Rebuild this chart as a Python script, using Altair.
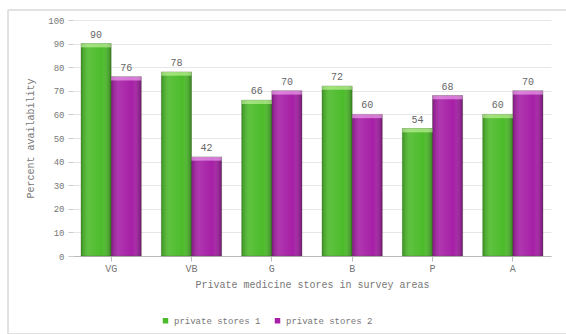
import altair as alt
import pandas as pd

# Survey areas and availability (%) for the two store groups
areas = ["VG", "VB", "G", "B", "P", "A"]
stores_1 = [90, 78, 66, 72, 54, 60]
stores_2 = [76, 42, 70, 60, 68, 70]
series_names = ["private stores 1", "private stores 2"]
y_ticks = [0, 10, 20, 30, 40, 50, 60, 70, 80, 90, 100]

rows = []
for i, a in enumerate(areas):
    rows.append({"area": a, "series": series_names[0], "value": stores_1[i]})
    rows.append({"area": a, "series": series_names[1], "value": stores_2[i]})
df = pd.DataFrame(rows)

FONT = "Liberation Mono"
GRAY = "#777777"

x_enc = alt.X("area:N", sort=areas, title="Private medicine stores in survey areas",
              scale=alt.Scale(paddingInner=0.25, paddingOuter=0.1),
              axis=alt.Axis(labelAngle=0, labelFont=FONT, labelFontSize=10, labelColor=GRAY,
                            titleFont=FONT, titleFontSize=10, titleColor=GRAY, titleFontWeight="normal",
                            domainColor="#bbbbbb", tickColor="#bbbbbb", labelPadding=2, titlePadding=6))
y_enc = alt.Y("value:Q", title="Percent availability",
              scale=alt.Scale(domain=[0, 100]),
              axis=alt.Axis(values=y_ticks, labelOverlap=False, labelFont=FONT, labelFontSize=9,
                            labelColor=GRAY, titleFont=FONT, titleFontSize=10, titleColor=GRAY,
                            titleFontWeight="normal", gridColor="#e6e6e6", domain=False,
                            tickColor="#cccccc", tickSize=5, labelPadding=4, titlePadding=12))
color_enc = alt.Color("series:N", sort=series_names,
                      scale=alt.Scale(domain=series_names, range=["#4cbb2a", "#a61fa6"]),
                      legend=alt.Legend(orient="none", legendX=88, legendY=296, direction="horizontal",
                                        title=None, symbolType="square", symbolSize=30,
                                        labelFont=FONT, labelFontSize=9, labelColor=GRAY,
                                        columnPadding=12, symbolStrokeWidth=0))
offset = alt.XOffset("series:N", sort=series_names)

bars = alt.Chart(df).mark_bar(stroke="#2f4f1a", strokeOpacity=0.3, strokeWidth=1).encode(
    x=x_enc, y=y_enc, color=color_enc, xOffset=offset
)

# cylindrical shading across each bar
shade = alt.Chart(df).mark_bar(
    fill=alt.Gradient(
        gradient="linear", x1=0, x2=1, y1=0, y2=0,
        stops=[
            alt.GradientStop(color="rgba(0,0,0,0.22)", offset=0),
            alt.GradientStop(color="rgba(255,255,255,0.10)", offset=0.25),
            alt.GradientStop(color="rgba(255,255,255,0.0)", offset=0.7),
            alt.GradientStop(color="rgba(0,0,0,0.30)", offset=1),
        ],
    )
).encode(x=x_enc, y=y_enc, xOffset=offset)

# light cap on top of each bar
caps_df = df.assign(cap_bottom=df["value"] - 1.6)
caps = alt.Chart(caps_df).mark_bar(opacity=0.55).encode(
    x=x_enc, y=y_enc, y2="cap_bottom:Q", xOffset=offset,
    color=alt.Color("series:N", sort=series_names, legend=None,
                    scale=alt.Scale(domain=series_names, range=["#d8ffb0", "#ffc0ff"])),
)

labels = alt.Chart(df).mark_text(dy=-9, font=FONT, fontSize=10, color="#666666").encode(
    x=x_enc, y=y_enc, xOffset=offset, text="value:Q"
)

frame = alt.Chart(df).mark_rect(fill=None, stroke="#e2e2e2", strokeWidth=1).encode(
    x=alt.value(-65), x2=alt.value(550), y=alt.value(-10), y2=alt.value(314)
)

chart = alt.layer(frame, bars, shade, caps, labels).resolve_scale(color="independent").properties(
    width=478, height=236,
    autosize=alt.AutoSizeParams(type="none"),
    padding={"left": 73, "top": 20, "right": 15, "bottom": 78},
).configure_view(stroke=None)

chart.save("out.html", embed_options={"renderer": "svg", "actions": False})
